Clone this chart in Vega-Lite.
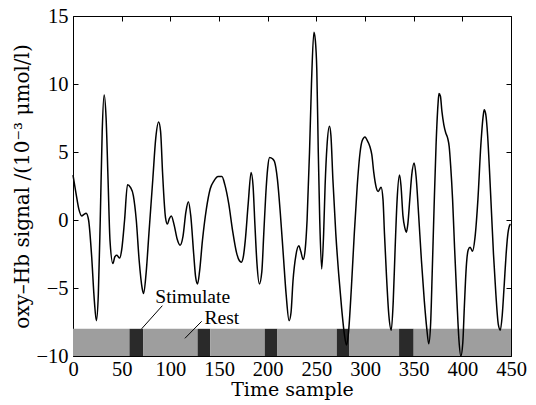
{
  "$schema": "https://vega.github.io/schema/vega-lite/v6.json",
  "width": 438,
  "height": 340,
  "autosize": {"type": "none"},
  "padding": {"left": 73, "top": 16, "right": 25, "bottom": 49},
  "background": "white",
  "config": {
    "font": "Liberation Serif",
    "view": {"stroke": null},
    "axis": {
      "grid": false,
      "domainColor": "black",
      "tickColor": "black",
      "labelColor": "black",
      "titleColor": "black",
      "labelFont": "Liberation Serif",
      "titleFont": "DejaVu Serif",
      "labelFontSize": 20.5,
      "titleFontWeight": "normal",
      "tickSize": -5,
      "domainWidth": 1
    }
  },
  "datasets": {
    "signal": [
      {"t": 0, "v": 3.3}, {"t": 3, "v": 2.0}, {"t": 6, "v": 0.8}, {"t": 9, "v": 0.3}, {"t": 11, "v": 0.4},
      {"t": 13.5, "v": 0.5}, {"t": 16, "v": 0.0}, {"t": 19, "v": -2.5}, {"t": 22, "v": -6.0}, {"t": 24, "v": -7.4},
      {"t": 26, "v": -5.5}, {"t": 28, "v": 0}, {"t": 30, "v": 6.5}, {"t": 32, "v": 9.2}, {"t": 34, "v": 7.5},
      {"t": 36, "v": 3}, {"t": 38, "v": -1.5}, {"t": 41, "v": -3.2}, {"t": 43, "v": -2.7}, {"t": 45, "v": -2.6},
      {"t": 48, "v": -2.8}, {"t": 50, "v": -2.2}, {"t": 53, "v": 0}, {"t": 56, "v": 2.6}, {"t": 59, "v": 2.4},
      {"t": 62, "v": 1.8}, {"t": 65, "v": 0}, {"t": 68, "v": -3}, {"t": 71, "v": -5.0}, {"t": 72.5, "v": -5.4},
      {"t": 75, "v": -4}, {"t": 78, "v": -1}, {"t": 82, "v": 3}, {"t": 85, "v": 6}, {"t": 88, "v": 7.2},
      {"t": 90, "v": 6.5}, {"t": 92, "v": 3.5}, {"t": 95, "v": 0.2}, {"t": 97, "v": -0.3}, {"t": 99, "v": 0.1},
      {"t": 101, "v": 0.3}, {"t": 104, "v": -0.4}, {"t": 107, "v": -1.4}, {"t": 110, "v": -1.85}, {"t": 113, "v": -1.2},
      {"t": 116, "v": 0.6}, {"t": 118.5, "v": 1.35}, {"t": 121, "v": 0.3}, {"t": 124, "v": -2.5}, {"t": 126, "v": -4.2},
      {"t": 128, "v": -4.7}, {"t": 130, "v": -3.8}, {"t": 133, "v": -1.5}, {"t": 137, "v": 0.8}, {"t": 141, "v": 2.3},
      {"t": 145, "v": 2.9}, {"t": 149, "v": 3.2}, {"t": 153, "v": 3.2}, {"t": 156, "v": 2.6}, {"t": 160, "v": 1.2},
      {"t": 164, "v": -0.8}, {"t": 168, "v": -2.4}, {"t": 171, "v": -3.0}, {"t": 173, "v": -3.1}, {"t": 175, "v": -2.7},
      {"t": 177, "v": -1.5}, {"t": 180, "v": 1.2}, {"t": 183, "v": 3.5}, {"t": 185, "v": 2.5}, {"t": 187, "v": -0.5},
      {"t": 189, "v": -3.2}, {"t": 191.5, "v": -4.7}, {"t": 194, "v": -3.8}, {"t": 196, "v": -1}, {"t": 198, "v": 1.8},
      {"t": 200, "v": 3.8}, {"t": 202, "v": 4.6}, {"t": 205, "v": 4.5}, {"t": 207, "v": 4.3}, {"t": 210, "v": 3},
      {"t": 213, "v": 0.5}, {"t": 216, "v": -2.5}, {"t": 219, "v": -5.5}, {"t": 222, "v": -7.4}, {"t": 224, "v": -6.8},
      {"t": 226, "v": -4.5}, {"t": 229, "v": -2.6}, {"t": 232, "v": -1.9}, {"t": 234, "v": -2.3}, {"t": 236.5, "v": -2.9},
      {"t": 238.5, "v": -2.2}, {"t": 240.5, "v": 0}, {"t": 243, "v": 5}, {"t": 245, "v": 10}, {"t": 247.5, "v": 13.8},
      {"t": 249, "v": 13.2}, {"t": 250.5, "v": 11}, {"t": 252, "v": 5}, {"t": 253.5, "v": 0}, {"t": 255.5, "v": -3.6},
      {"t": 257.5, "v": -1}, {"t": 259, "v": 2.5}, {"t": 261, "v": 5.5}, {"t": 263.5, "v": 6.9}, {"t": 265, "v": 6.2},
      {"t": 267, "v": 3}, {"t": 270, "v": -1}, {"t": 273, "v": -4}, {"t": 276, "v": -6.5}, {"t": 279, "v": -8.5},
      {"t": 281, "v": -9.2}, {"t": 283, "v": -8.3}, {"t": 286, "v": -5}, {"t": 289, "v": -1}, {"t": 292, "v": 2.5},
      {"t": 295, "v": 5}, {"t": 297, "v": 5.8}, {"t": 300, "v": 6.1}, {"t": 302, "v": 5.9}, {"t": 305, "v": 5.4},
      {"t": 307, "v": 4.8}, {"t": 309, "v": 3.5}, {"t": 311.5, "v": 2.4}, {"t": 313.5, "v": 2.1}, {"t": 316.5, "v": 2.4},
      {"t": 318.5, "v": 1.5}, {"t": 320, "v": -1}, {"t": 322, "v": -4}, {"t": 324.5, "v": -7}, {"t": 327, "v": -8.1},
      {"t": 329, "v": -6}, {"t": 331, "v": -2}, {"t": 333, "v": 1.5}, {"t": 335.5, "v": 3.3}, {"t": 337, "v": 2.5},
      {"t": 339, "v": 0.3}, {"t": 341, "v": -0.6}, {"t": 342.5, "v": -0.9}, {"t": 344, "v": -0.3}, {"t": 346, "v": 1.5},
      {"t": 348, "v": 3.3}, {"t": 350.5, "v": 4.2}, {"t": 352.5, "v": 3.2}, {"t": 355, "v": 0.5}, {"t": 358, "v": -3},
      {"t": 361, "v": -6}, {"t": 363.5, "v": -8}, {"t": 365.5, "v": -9.1}, {"t": 367.5, "v": -7.5}, {"t": 369, "v": -4},
      {"t": 371, "v": 1}, {"t": 373, "v": 5.5}, {"t": 375, "v": 8.5}, {"t": 376, "v": 9.3}, {"t": 377.5, "v": 9.1},
      {"t": 379, "v": 8}, {"t": 381, "v": 7}, {"t": 383, "v": 6.4}, {"t": 385, "v": 6.0}, {"t": 386.5, "v": 5.4},
      {"t": 388, "v": 4}, {"t": 390, "v": 1.5}, {"t": 392, "v": -2}, {"t": 394.5, "v": -6}, {"t": 396.5, "v": -8.8},
      {"t": 398.5, "v": -10}, {"t": 400.5, "v": -9}, {"t": 402, "v": -6.5}, {"t": 404, "v": -3.5}, {"t": 406, "v": -2.2},
      {"t": 408, "v": -2.0}, {"t": 410.5, "v": -2.3}, {"t": 413, "v": -1.3}, {"t": 416, "v": 1.5}, {"t": 419, "v": 5.5},
      {"t": 421.5, "v": 7.7}, {"t": 422.5, "v": 8.1}, {"t": 424, "v": 7.8}, {"t": 426, "v": 6.2}, {"t": 428, "v": 3.5},
      {"t": 430, "v": 0.5}, {"t": 432, "v": -2.5}, {"t": 434.5, "v": -5.5}, {"t": 437, "v": -7.7}, {"t": 439, "v": -8.1},
      {"t": 441, "v": -7}, {"t": 443, "v": -4.8}, {"t": 445, "v": -2.5}, {"t": 446.5, "v": -1.2}, {"t": 448.5, "v": -0.4},
      {"t": 449.5, "v": -0.3}
    ],
    "bands": [
      {"start": 0, "end": 58, "phase": "Rest"},
      {"start": 58, "end": 72, "phase": "Stimulate"},
      {"start": 72, "end": 128, "phase": "Rest"},
      {"start": 128, "end": 141, "phase": "Stimulate"},
      {"start": 141, "end": 197, "phase": "Rest"},
      {"start": 197, "end": 210, "phase": "Stimulate"},
      {"start": 210, "end": 271, "phase": "Rest"},
      {"start": 271, "end": 284, "phase": "Stimulate"},
      {"start": 284, "end": 335, "phase": "Rest"},
      {"start": 335, "end": 350, "phase": "Stimulate"},
      {"start": 350, "end": 450, "phase": "Rest"}
    ],
    "labels": [
      {"t": 123, "v": -5.65, "text": "Stimulate"},
      {"t": 153, "v": -7.2, "text": "Rest"}
    ],
    "leaders": [
      {"t": 91.8, "v": -6.3, "t2": 70.5, "v2": -8.0},
      {"t": 132.2, "v": -7.45, "t2": 115, "v2": -8.7}
    ]
  },
  "resolve": {"axis": {"x": "independent", "y": "independent"}},
  "layer": [
    {
      "data": {"name": "bands"},
      "mark": {"type": "rect"},
      "encoding": {
        "x": {"field": "start", "type": "quantitative", "scale": {"domain": [0, 450], "nice": false, "zero": false},
              "axis": {"orient": "bottom", "values": [0, 50, 100, 150, 200, 250, 300, 350, 400, 450], "title": "Time sample", "titleFontSize": 19, "labelPadding": 8, "titlePadding": 1, "labelFlush": false}},
        "x2": {"field": "end"},
        "y": {"datum": -10, "type": "quantitative", "scale": {"domain": [-10, 15], "nice": false, "zero": false},
              "axis": {"orient": "left", "values": [-10, -5, 0, 5, 10, 15], "title": "oxy–Hb signal /(10⁻³ μmol/l)", "titleFontSize": 20, "labelPadding": 10, "titlePadding": 3, "labelFlush": false}},
        "y2": {"datum": -8},
        "color": {"field": "phase", "type": "nominal", "scale": {"domain": ["Rest", "Stimulate"], "range": ["#9e9e9e", "#2a2a2a"]}, "legend": null}
      }
    },
    {
      "data": {"name": "signal"},
      "mark": {"type": "line", "color": "black", "strokeWidth": 1.5, "interpolate": "monotone"},
      "encoding": {
        "x": {"field": "t", "type": "quantitative", "axis": {"orient": "top", "values": [0, 50, 100, 150, 200, 250, 300, 350, 400, 450], "labels": false, "title": null}},
        "y": {"field": "v", "type": "quantitative", "axis": {"orient": "right", "values": [-10, -5, 0, 5, 10, 15], "labels": false, "title": null}}
      }
    },
    {
      "data": {"name": "leaders"},
      "mark": {"type": "rule", "color": "black", "strokeWidth": 1},
      "encoding": {
        "x": {"field": "t", "type": "quantitative", "axis": null},
        "y": {"field": "v", "type": "quantitative", "axis": null},
        "x2": {"field": "t2"},
        "y2": {"field": "v2"}
      }
    },
    {
      "data": {"name": "labels"},
      "mark": {"type": "text", "font": "Liberation Serif", "fontSize": 19.5, "color": "black", "align": "center", "baseline": "middle"},
      "encoding": {
        "x": {"field": "t", "type": "quantitative", "axis": null},
        "y": {"field": "v", "type": "quantitative", "axis": null},
        "text": {"field": "text"}
      }
    }
  ]
}
